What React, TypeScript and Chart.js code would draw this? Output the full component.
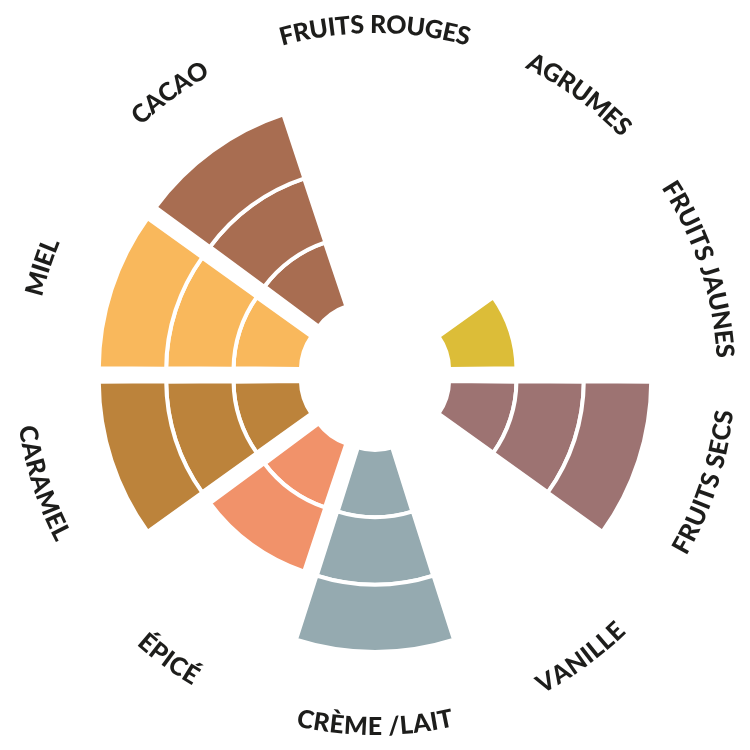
import { useEffect, useRef } from "react";
import { Chart, ArcElement, DoughnutController } from "chart.js";
Chart.register(DoughnutController, ArcElement);

const categories = [
  "FRUITS ROUGES",
  "AGRUMES",
  "FRUITS JAUNES",
  "FRUITS SECS",
  "VANILLE",
  "CRÈME /LAIT",
  "ÉPICÉ",
  "CARAMEL",
  "MIEL",
  "CACAO",
];
// intensity score per aroma, 0 to 3 rings
const scores = [0, 0, 1, 3, 0, 3, 2, 3, 3, 3];
const colors = [
  "#c4544e",
  "#eaa13a",
  "#dcbd38",
  "#9d7372",
  "#e8d5a6",
  "#95aab0",
  "#f1926a",
  "#bc833b",
  "#f9b85c",
  "#a86d51",
];
// doughnut datasets go from the outer ring inwards
const ringLevels = [3, 2, 1];

const LABEL_RADIUS = 351;
const FONT_SIZE = 25;
const LETTER_SPACING = 0;

const curvedLabels = {
  id: "curvedLabels",
  afterDatasetsDraw(chart: Chart) {
    const ctx = chart.ctx;
    const arcs = chart.getDatasetMeta(0).data as any[];
    ctx.save();
    ctx.fillStyle = "#1d1d1b";
    ctx.font = `900 ${FONT_SIZE}px Lato`;
    ctx.textAlign = "center";
    ctx.textBaseline = "alphabetic";
    const capHeight = ctx.measureText("H").actualBoundingBoxAscent;

    categories.forEach((label, i) => {
      const { x, y, startAngle, endAngle } = arcs[i].getProps(
        ["x", "y", "startAngle", "endAngle"],
        true
      );
      const mid = (startAngle + endAngle) / 2;
      const top = Math.sin(mid) < 0;
      const dir = top ? 1 : -1;
      const chars = Array.from(label);
      const widths = chars.map((c) => ctx.measureText(c).width);
      const total =
        widths.reduce((a, b) => a + b, 0) + LETTER_SPACING * (chars.length - 1);
      let pos = -total / 2;
      chars.forEach((c, k) => {
        const a = mid + (dir * (pos + widths[k] / 2)) / LABEL_RADIUS;
        ctx.save();
        ctx.translate(
          x + LABEL_RADIUS * Math.cos(a),
          y + LABEL_RADIUS * Math.sin(a)
        );
        ctx.rotate(top ? a + Math.PI / 2 : a - Math.PI / 2);
        ctx.fillText(c, 0, capHeight / 2);
        ctx.restore();
        pos += widths[k] + LETTER_SPACING;
      });
    });
    ctx.restore();
  },
};

const AromaWheel = () => {
  const canvasRef = useRef<HTMLCanvasElement>(null);

  useEffect(() => {
    document.body.style.margin = "0";
    const canvas = canvasRef.current;
    if (!canvas) {
      return;
    }

    const chart = new Chart(canvas, {
      type: "doughnut",
      data: {
        labels: categories,
        datasets: ringLevels.map((level) => ({
          data: categories.map(() => 1),
          backgroundColor: categories.map((_, i) =>
            scores[i] >= level ? colors[i] : "rgba(0,0,0,0)"
          ),
          borderColor: "#ffffff",
          borderWidth: categories.map((_, i) => (scores[i] >= level ? 4 : 0)),
          borderJoinStyle: "miter",
          offset: 71,
        })),
      },
      options: {
        responsive: false,
        animation: false,
        events: [],
        rotation: -18,
        cutout: "19.8%",
        radius: 252,
        layout: { padding: 0 },
        plugins: {
          legend: { display: false },
          tooltip: { enabled: false },
        },
      } as any,
      plugins: [curvedLabels],
    });

    return () => {
      chart.destroy();
    };
  }, []);

  return (
    <div style={{ width: 750, height: 750 }}>
      <canvas ref={canvasRef} width={750} height={750}></canvas>
    </div>
  );
};

export default function App() {
  return <AromaWheel />;
}
